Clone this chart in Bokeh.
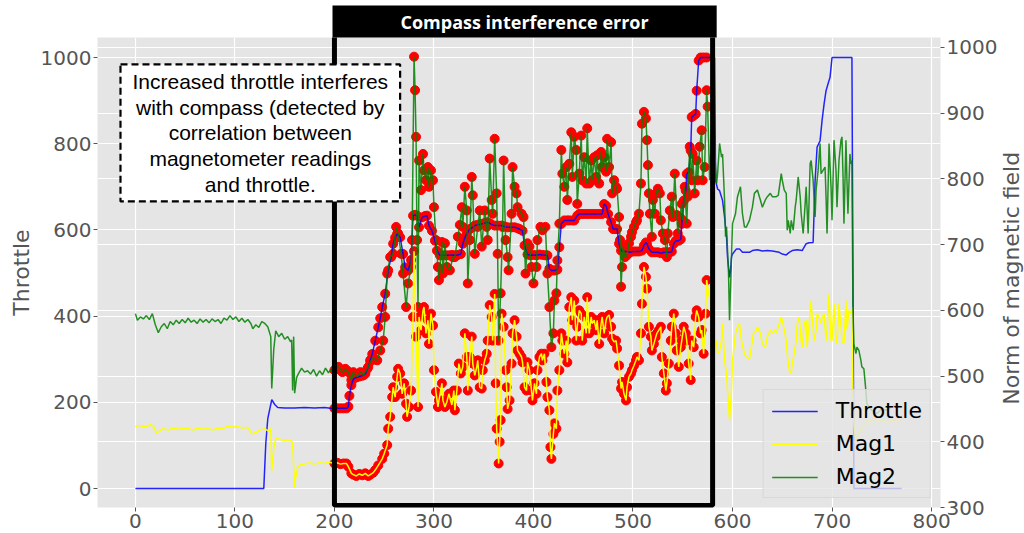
import math
import numpy as np
from bokeh.plotting import figure
from bokeh.layouts import row
from bokeh.models import Range1d, LinearAxis, Grid, BoxAnnotation, Label, SingleIntervalTicker
from bokeh.embed import file_html
from bokeh.resources import INLINE

# ---------------- data ----------------
throttle_x = [
    0, 129, 131, 133, 137, 140, 143, 150, 160, 170,
    180, 190, 196, 200, 203, 206, 209, 212, 214, 215,
    217, 219, 222, 225, 228, 231, 234, 236, 238, 241,
    244, 246, 248, 251, 254, 257, 259, 261, 263, 266,
    269, 271, 274, 277, 279, 281, 283, 285, 288, 291,
    293, 295, 298, 301, 303, 306, 309, 312, 315, 318,
    321, 324, 327, 329, 331, 333, 336, 339, 341, 344,
    348, 351, 354, 357, 361, 364, 368, 371, 374, 378,
    381, 384, 386, 389, 391, 394, 397, 400, 403, 406,
    409, 412, 414, 416, 418, 420, 422, 424, 426, 428,
    431, 434, 436, 439, 441, 444, 446, 448, 451, 454,
    457, 460, 463, 466, 469, 471, 473, 475, 478, 480,
    482, 484, 486, 488, 491, 494, 497, 500, 503, 506,
    509, 511, 513, 514, 516, 519, 522, 525, 528, 531,
    534, 537, 539, 541, 543, 546, 548, 549, 551, 553,
    554, 556, 558, 559, 561, 563, 564, 566, 568, 571,
    574, 577, 580, 582, 583, 585, 587, 589, 590, 592,
    594, 595, 597, 598, 599, 600, 604, 607, 610, 614,
    617, 620, 625, 630, 635, 640, 647, 650, 654, 657,
    660, 665, 670, 674, 677, 681, 683, 685, 688, 690,
    692, 694, 696, 698, 700, 710, 720, 722, 740, 770,
]
throttle = [
    0, 0, 104, 162, 206, 195, 188, 187, 187, 188,
    187, 188, 186, 186, 186, 186, 186, 186, 190, 215,
    240, 254, 258, 260, 262, 266, 282, 298, 312, 343,
    374, 395, 421, 452, 506, 537, 568, 582, 591, 583,
    544, 513, 506, 530, 633, 635, 633, 606, 629, 632,
    633, 610, 598, 575, 552, 541, 541, 541, 541, 542,
    541, 542, 544, 568, 582, 591, 602, 606, 610, 612,
    614, 616, 618, 614, 610, 610, 610, 608, 606, 606,
    606, 604, 602, 598, 564, 543, 541, 542, 541, 543,
    542, 541, 541, 510, 506, 506, 506, 508, 560, 614,
    622, 622, 622, 622, 622, 633, 637, 637, 637, 637,
    637, 637, 637, 637, 637, 660, 656, 637, 618, 602,
    602, 602, 568, 552, 550, 550, 548, 550, 550, 550,
    552, 564, 571, 568, 556, 548, 548, 548, 546, 548,
    548, 548, 550, 568, 575, 575, 578, 614, 668, 691,
    730, 734, 784, 862, 865, 869, 923, 993, 1000, 1000,
    1000, 1000, 1000, 1000, 715, 695, 691, 676, 668, 630,
    583, 537, 490, 506, 537, 544, 556, 556, 548, 548,
    548, 552, 554, 551, 552, 551, 548, 544, 542, 548,
    552, 554, 552, 568, 570, 571, 715, 792, 807, 854,
    892, 923, 939, 954, 1000, 1000, 1000, 0, 0, 0,
]

mag1_x = [
    0, 4, 8, 12, 15, 18, 21, 24, 28, 33,
    38, 43, 48, 53, 58, 63, 68, 73, 78, 83,
    88, 93, 98, 103, 108, 113, 117, 121, 125, 130,
    134, 136, 137, 139, 141, 145, 150, 154, 157, 158,
    160, 161, 163, 166, 170, 175, 180, 185, 190, 195,
    200, 203, 206, 209, 212, 214, 217, 219, 222, 225,
    228, 231, 234, 236, 239, 241, 244, 248, 250, 253,
    254, 256, 258, 259, 261, 263, 264, 266, 268, 270,
    272, 273, 275, 277, 279, 280, 282, 284, 285, 287,
    289, 290, 292, 294, 295, 297, 299, 300, 302, 304,
    305, 308, 309, 311, 313, 315, 318, 320, 321, 323,
    325, 327, 329, 331, 333, 334, 336, 338, 339, 341,
    343, 344, 346, 348, 349, 351, 353, 354, 356, 358,
    359, 361, 362, 363, 365, 366, 367, 368, 370, 372,
    373, 374, 376, 378, 379, 381, 383, 384, 386, 388,
    389, 391, 393, 394, 396, 398, 399, 401, 403, 404,
    406, 408, 409, 411, 413, 414, 416, 417, 418, 420,
    421, 423, 424, 426, 428, 429, 431, 433, 434, 436,
    438, 439, 441, 443, 444, 446, 448, 449, 451, 453,
    454, 456, 458, 459, 461, 463, 464, 466, 468, 469,
    471, 473, 474, 476, 478, 479, 481, 483, 484, 486,
    488, 489, 491, 493, 494, 496, 498, 499, 501, 503,
    504, 506, 508, 509, 511, 513, 514, 516, 518, 519,
    521, 523, 524, 526, 528, 529, 531, 533, 534, 536,
    538, 539, 541, 543, 544, 546, 548, 549, 551, 553,
    554, 556, 558, 559, 561, 563, 564, 566, 568, 569,
    571, 573, 574, 576, 578, 580, 582, 584, 585, 587,
    589, 590, 592, 594, 595, 597, 599, 600, 603, 605,
    607, 609, 612, 614, 617, 619, 621, 624, 625, 628,
    630, 633, 635, 638, 640, 642, 644, 647, 649, 650,
    652, 654, 655, 657, 659, 660, 662, 664, 665, 667,
    669, 670, 672, 674, 675, 677, 679, 680, 682, 684,
    685, 687, 689, 690, 692, 694, 695, 697, 699, 700,
    702, 704, 705, 707, 709, 710, 712, 714, 715, 717,
    719, 720, 721, 722, 724, 727, 730, 734, 737, 744,
    750, 757, 764, 769,
]
mag1 = [
    423, 425, 423, 424, 426, 424, 414, 416, 420, 418,
    421, 419, 421, 420, 418, 421, 419, 420, 418, 421,
    420, 424, 422, 423, 421, 422, 412, 414, 418, 420,
    416, 420, 356, 390, 405, 404, 402, 403, 401, 398,
    330, 345, 361, 365, 366, 368, 366, 368, 367, 369,
    367, 368, 366, 367, 367, 362, 352, 350, 348, 351,
    349, 352, 348, 350, 353, 357, 364, 374, 382, 395,
    420, 438, 468, 483, 468, 499, 511, 504, 473, 489,
    458, 438, 453, 478, 590, 690, 560, 453, 590, 570,
    600, 605, 565, 585, 549, 595, 577, 509, 476, 453,
    463, 489, 463, 453, 461, 473, 456, 478, 448, 478,
    519, 504, 514, 565, 529, 478, 529, 560, 519, 501,
    514, 524, 483, 481, 509, 524, 534, 554, 608, 590,
    554, 625, 489, 420, 367, 400, 433, 595, 575, 509,
    483, 450, 463, 519, 565, 585, 560, 539, 534, 529,
    521, 483, 478, 521, 509, 478, 463, 489, 473, 509,
    529, 534, 524, 534, 491, 468, 448, 392, 374, 412,
    428, 420, 478, 509, 565, 554, 534, 554, 521, 605,
    620, 585, 615, 554, 575, 600, 595, 554, 590, 565,
    620, 565, 590, 580, 585, 570, 585, 549, 580, 590,
    565, 585, 590, 593, 575, 557, 552, 554, 542, 516,
    481, 491, 473, 463, 483, 499, 504, 509, 516, 524,
    529, 524, 565, 610, 666, 651, 633, 575, 560, 539,
    549, 560, 565, 570, 575, 529, 504, 478, 489, 519,
    554, 575, 595, 565, 539, 514, 544, 554, 575, 565,
    554, 519, 494, 554, 544, 590, 600, 590, 565, 570,
    534, 595, 646, 626, 610, 554, 539, 554, 534, 539,
    554, 580, 524, 504, 478, 433, 478, 524, 565, 575,
    580, 554, 534, 529, 526, 544, 565, 570, 575, 565,
    549, 544, 560, 570, 565, 570, 565, 580, 590, 585,
    570, 554, 534, 509, 504, 519, 534, 554, 580, 590,
    554, 544, 580, 585, 544, 580, 615, 590, 554, 570,
    595, 590, 580, 590, 595, 554, 570, 625, 554, 554,
    610, 554, 549, 610, 575, 554, 549, 615, 570, 600,
    595, 605, 478, 428, 402, 415, 420, 430, 433, 433,
    433, 430, 433, 433,
]

mag2_x = [
    0, 2, 5, 8, 11, 14, 17, 20, 23, 26,
    29, 32, 35, 38, 41, 44, 47, 50, 53, 56,
    59, 62, 65, 68, 71, 74, 77, 80, 83, 86,
    89, 92, 95, 98, 101, 104, 107, 110, 113, 116,
    118, 121, 124, 127, 130, 133, 136, 137, 139, 141,
    144, 147, 150, 153, 156, 157, 158, 159, 160, 162,
    164, 167, 170, 173, 176, 179, 182, 185, 188, 191,
    194, 197, 200, 202, 204, 206, 208, 210, 211, 213,
    214, 217, 219, 221, 223, 225, 226, 228, 229, 231,
    233, 236, 239, 241, 243, 246, 249, 251, 253, 256,
    259, 262, 264, 267, 269, 272, 274, 277, 278, 280,
    281, 282, 283, 284, 285, 287, 289, 290, 292, 294,
    295, 297, 299, 300, 302, 304, 305, 308, 309, 311,
    313, 316, 319, 321, 324, 326, 328, 329, 331, 333,
    334, 336, 338, 339, 341, 344, 346, 348, 351, 353,
    354, 356, 358, 359, 361, 363, 364, 365, 367, 369,
    370, 372, 374, 375, 378, 379, 381, 383, 384, 388,
    390, 392, 394, 396, 398, 400, 403, 404, 407, 409,
    412, 414, 416, 418, 420, 421, 423, 424, 426, 428,
    429, 431, 433, 434, 436, 438, 439, 441, 443, 444,
    446, 448, 449, 451, 453, 454, 456, 458, 459, 461,
    463, 464, 466, 468, 469, 471, 473, 474, 476, 478,
    479, 481, 483, 484, 486, 487, 488, 489, 490, 492,
    494, 496, 498, 499, 501, 503, 504, 506, 508, 509,
    511, 513, 514, 515, 516, 517, 519, 520, 522, 523,
    525, 527, 528, 530, 532, 534, 535, 537, 539, 540,
    542, 544, 545, 547, 549, 550, 552, 554, 555, 557,
    559, 560, 562, 564, 565, 567, 569, 570, 572, 574,
    575, 577, 579, 580, 582, 584, 585, 587, 589, 590,
    592, 593, 594, 596, 597, 599, 600, 603, 605, 608,
    610, 612, 614, 617, 620, 622, 625, 628, 630, 633,
    635, 638, 640, 644, 646, 649, 650, 652, 654, 655,
    656, 658, 659, 661, 663, 664, 666, 668, 669, 671,
    673, 674, 676, 678, 679, 681, 683, 684, 686, 688,
    689, 691, 693, 694, 695, 697, 699, 700, 702, 704,
    705, 707, 709, 710, 711, 712, 714, 715, 716, 718,
    719, 720, 721, 722, 724, 725, 727, 729, 730, 732,
    734, 735, 737, 740, 745, 750, 755, 760, 765, 769,
]
mag2 = [
    595, 585, 590, 587, 592, 586, 595, 578, 566, 575,
    580, 572, 583, 578, 585, 580, 586, 581, 588, 582,
    585, 580, 587, 582, 586, 581, 587, 583, 586, 580,
    588, 585, 592, 586, 590, 583, 588, 582, 586, 580,
    572, 578, 574, 583, 580, 575, 560, 481, 540, 569,
    560, 565, 556, 560, 552, 555, 478, 560, 474, 498,
    504, 512, 506, 508, 503, 510, 500, 508, 502, 512,
    505, 511, 509, 512, 514, 510, 506, 509, 511, 508,
    506, 494, 506, 502, 499, 503, 506, 504, 501, 506,
    511, 522, 527, 525, 524, 539, 554, 590, 656, 681,
    686, 727, 717, 686, 656, 605, 641, 666, 707, 986,
    935, 864, 707, 605, 828, 783, 838, 813, 798, 818,
    788, 813, 798, 757, 707, 666, 646, 704, 656, 702,
    666, 661, 681, 681, 712, 730, 757, 727, 788, 752,
    641, 707, 803, 775, 686, 727, 752, 697, 752, 727,
    707, 831, 768, 747, 861, 778, 686, 554, 626, 727,
    828, 707, 681, 661, 747, 818, 788, 778, 757, 747,
    742, 656, 702, 697, 666, 641, 666, 707, 727, 722,
    727, 656, 605, 544, 565, 615, 626, 676, 732, 844,
    808, 788, 818, 768, 823, 871, 803, 864, 844, 762,
    808, 866, 798, 833, 793, 877, 793, 828, 798, 833,
    803, 836, 793, 841, 818, 833, 811, 861, 818, 856,
    778, 798, 788, 785, 742, 707, 636, 666, 697, 681,
    684, 702, 712, 719, 727, 734, 737, 747, 793, 884,
    902, 892, 859, 821, 778, 747, 712, 768, 747, 778,
    785, 778, 737, 717, 707, 681, 717, 752, 773, 742,
    808, 745, 717, 742, 762, 737, 788, 732, 773, 849,
    798, 838, 778, 828, 798, 849, 874, 798, 818, 935,
    910, 798, 874, 910, 844, 793, 808, 854, 833, 838,
    768, 712, 727, 656, 585, 681, 732, 747, 773, 788,
    747, 727, 727, 737, 757, 778, 783, 768, 757, 768,
    773, 778, 773, 773, 775, 808, 798, 783, 778, 722,
    737, 717, 737, 722, 757, 768, 803, 773, 747, 717,
    762, 788, 717, 823, 828, 798, 742, 783, 813, 854,
    808, 813, 818, 773, 717, 854, 788, 737, 859, 813,
    757, 828, 859, 864, 808, 732, 859, 798, 747, 838,
    823, 828, 605, 549, 534, 544, 539, 524, 514, 511,
    478, 458, 453, 448, 443, 450, 448, 453, 456, 453,
]

# interval flagged as compass interference
window_start, window_end = 200, 575
window_box = (200, 580)

series_labels = ["Throttle", "Mag1", "Mag2"]
annotation_lines = [
    "Increased throttle interferes",
    "with compass (detected by",
    "correlation between",
    "magnetometer readings",
    "and throttle.",
]
box_title = "Compass interference error"
left_label = "Throttle"
right_label = "Norm of magnetic field"

# ---------------- figure ----------------
TICK_FONT = "20px"
GREY = "#555555"

p = figure(width=1000, height=533,
           x_range=Range1d(-38.1, 809), y_range=Range1d(-44, 1046.4),
           output_backend="svg", toolbar_location=None,
           background_fill_color="#e5e5e5", border_fill_color="white",
           outline_line_color=None,
           min_border_left=97, min_border_right=59,
           min_border_top=37, min_border_bottom=26)
p.extra_y_ranges = {"mag": Range1d(300, 1015.2)}

# title bar of the flagged window (drawn as the figure title, above the frame)
p.title.text = box_title
p.title.align = "left"
p.title.offset = 235
p.title.standoff = 0
p.title.vertical_align = "bottom"
p.title.text_color = "white"
p.title.text_font = "Open Sans"
p.title.text_font_style = "bold"
p.title.text_font_size = "18px"
p.title.background_fill_color = "black"
p.title.background_fill_alpha = 1
p.title.padding = (68, 4)

right_axis = LinearAxis(y_range_name="mag", ticker=SingleIntervalTicker(interval=100))
p.add_layout(right_axis, "right")

p.xaxis.ticker = SingleIntervalTicker(interval=100)
p.yaxis[0].ticker = SingleIntervalTicker(interval=200)
p.yaxis[0].axis_label = left_label

for ax in [p.xaxis[0], p.yaxis[0], right_axis]:
    ax.axis_line_color = None
    ax.major_tick_line_color = GREY
    ax.major_tick_out = 4
    ax.major_tick_in = 0
    ax.minor_tick_line_color = None
    ax.major_label_text_color = GREY
    ax.major_label_text_font = "DejaVu Sans"
    ax.major_label_text_font_size = TICK_FONT
    ax.major_label_standoff = 2
    ax.axis_label_text_color = GREY
    ax.axis_label_text_font = "DejaVu Sans"
    ax.axis_label_text_font_size = "22px"
    ax.axis_label_text_font_style = "normal"
    ax.axis_label_standoff = 4

p.xgrid.grid_line_color = "white"
p.ygrid.grid_line_color = "white"
p.xgrid.grid_line_width = 1.2
p.ygrid.grid_line_width = 1.2
p.add_layout(Grid(dimension=1, ticker=right_axis.ticker, y_range_name="mag",
                  grid_line_color="white", grid_line_width=1.2))

# red markers for samples inside the flagged window
tx, ty = np.array(throttle_x), np.array(throttle)
m1x, m1y = np.array(mag1_x), np.array(mag1)
m2x, m2y = np.array(mag2_x), np.array(mag2)
for xs, ys, rng in [(tx, ty, "default"), (m1x, m1y, "mag"), (m2x, m2y, "mag")]:
    sel = (xs >= window_start) & (xs <= window_end)
    p.scatter(xs[sel], ys[sel], size=9, color="red", y_range_name=rng)

p.line(tx, ty, color="#0000ff", line_width=1.5, line_alpha=0.85, legend_label=series_labels[0])
p.line(m1x, m1y, color="#ffff00", line_width=1.5, y_range_name="mag", legend_label=series_labels[1])
p.line(m2x, m2y, color="#008000", line_width=1.5, line_alpha=0.85, y_range_name="mag",
       legend_label=series_labels[2])

leg = p.legend[0]
leg.location = "bottom_right"
leg.margin = 9
leg.padding = 8
leg.spacing = 8
leg.glyph_width = 46
leg.glyph_height = 24
leg.label_height = 24
leg.label_standoff = 18
leg.label_text_font = "DejaVu Sans"
leg.label_text_font_size = "22px"
leg.label_text_color = "black"
leg.background_fill_color = "#e5e5e5"
leg.background_fill_alpha = 0.8
leg.border_line_color = "#cccccc"

# black frame around the flagged window
p.add_layout(BoxAnnotation(left=window_box[0], right=window_box[1], bottom=-39.5, top=1060,
                           fill_alpha=0, line_color="black", line_alpha=1, line_width=5))

# dashed explanatory box
p.add_layout(BoxAnnotation(left=-15, right=266, bottom=666, top=984, fill_color="white",
                           fill_alpha=1, line_color="black", line_alpha=1, line_width=2.2,
                           line_dash="7 4"))
for i, line in enumerate(annotation_lines):
    p.add_layout(Label(x=125.5, y=945 - 60 * i, text=line, text_align="center",
                       text_baseline="middle", text_color="black",
                       text_font="Liberation Sans", text_font_size="21px"))

# narrow strip on the right carrying the secondary axis title (reads bottom to top)
side = figure(width=24, height=533, x_range=Range1d(0, 1), y_range=Range1d(0, 533),
              output_backend="svg", toolbar_location=None, x_axis_type=None, y_axis_type=None,
              min_border=0, outline_line_color=None, background_fill_color="white",
              border_fill_color="white")
side.grid.visible = False
side.add_layout(Label(x=0.45, y=260, text=right_label, angle=math.pi / 2,
                      text_align="center", text_baseline="middle", text_color=GREY,
                      text_font="DejaVu Sans", text_font_size="22px"))

layout = row(p, side, spacing=0)
open("out.html", "w").write(file_html(layout, INLINE))
